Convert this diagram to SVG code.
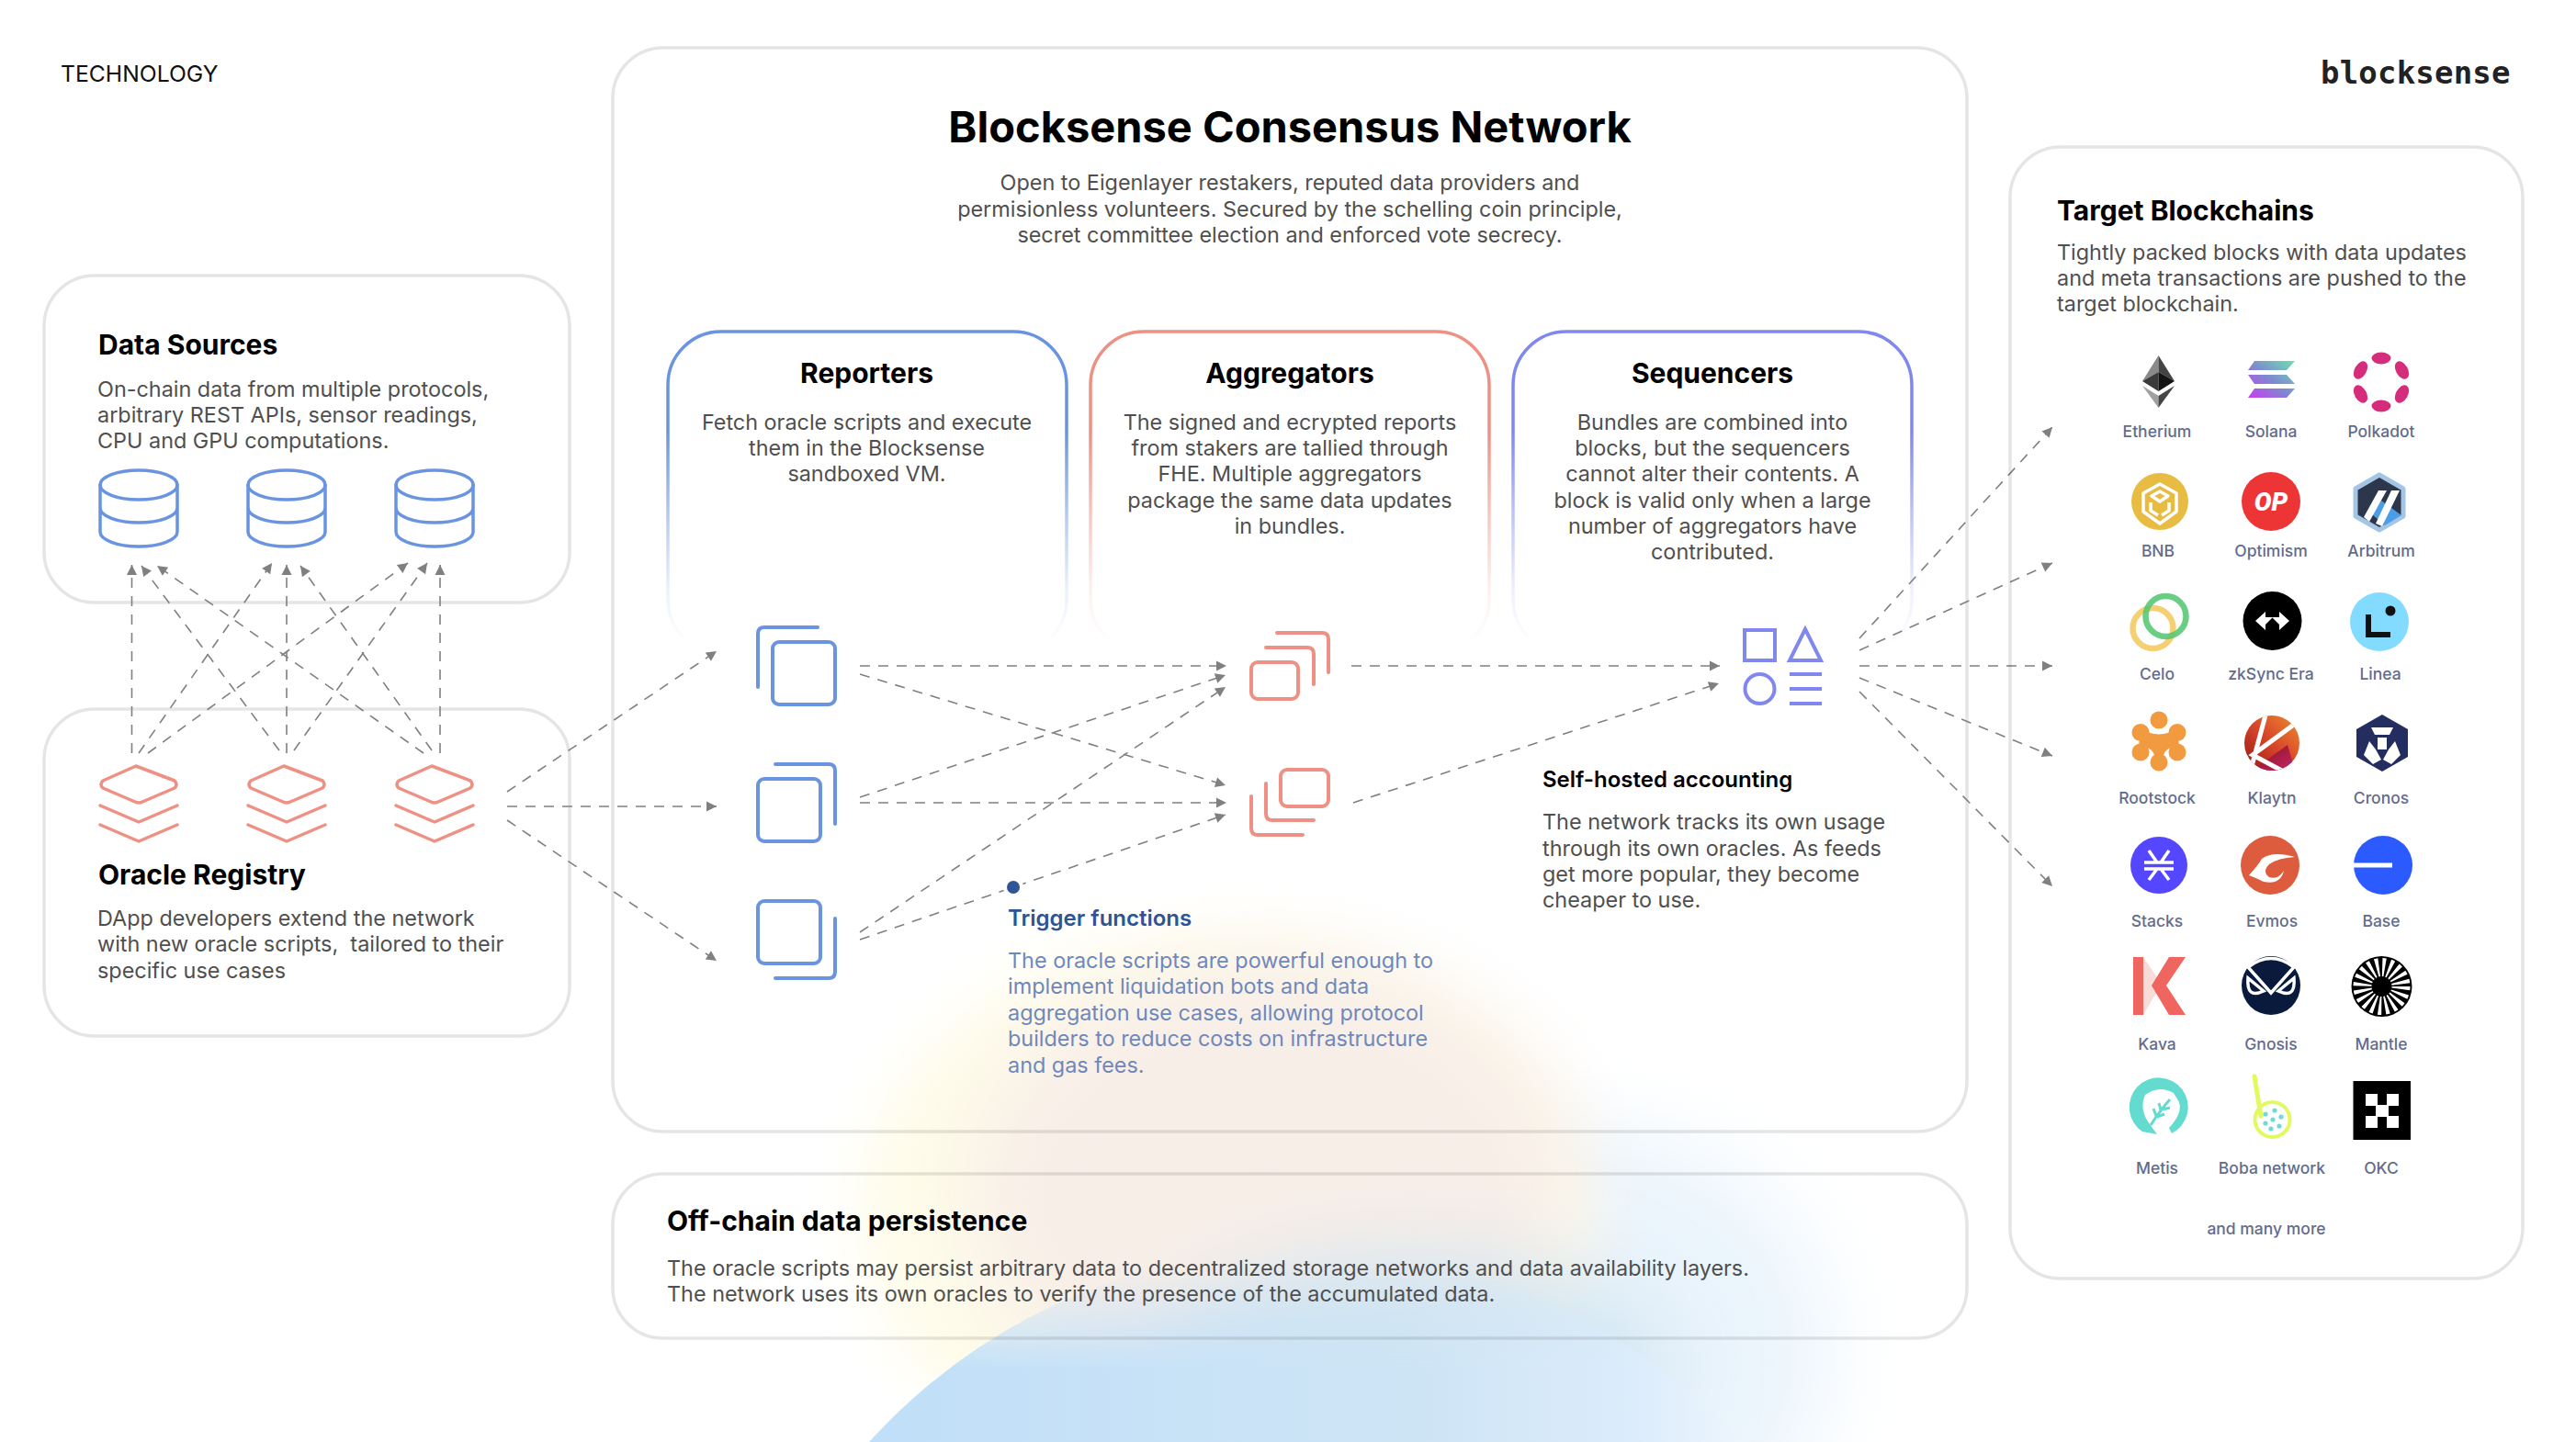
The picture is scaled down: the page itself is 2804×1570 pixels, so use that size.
<svg xmlns="http://www.w3.org/2000/svg" width="2804" height="1570" viewBox="0 0 2804 1570">
<style>
text{font-family:"Inter","Liberation Sans",sans-serif}
.panel{fill:none;stroke:#000;stroke-opacity:.1;stroke-width:3.5}
.h2{font-size:30px;font-weight:700;fill:#000}
.h3{font-size:24px;font-weight:600;fill:#000}
.b{font-size:23.4px;fill:#4f4f4f}
.c{text-anchor:middle}
.tb{fill:#6f88bb}
.lab{font-size:17.5px;font-weight:500;fill:#636c8c;text-anchor:middle}
.blue{fill:none;stroke:#6a94e0;stroke-width:4;stroke-linecap:round;stroke-linejoin:round}
.red{fill:none;stroke:#ee9083;stroke-width:4;stroke-linecap:round;stroke-linejoin:round}
.vio{fill:none;stroke:#8088ee;stroke-width:4}
.con line{stroke:#808080;stroke-width:1.6;stroke-dasharray:11 9;marker-end:url(#ah)}
</style>
<defs>
<marker id="ah" markerUnits="userSpaceOnUse" markerWidth="14" markerHeight="14" viewBox="0 0 14 14" refX="13" refY="7" orient="auto"><path d="M2 1.5 13 7 2 12.5Z" fill="#808080"/></marker>
<filter id="b60" x="-40%" y="-40%" width="180%" height="180%"><feGaussianBlur stdDeviation="45"/></filter>
<filter id="b30" x="-40%" y="-40%" width="180%" height="180%"><feGaussianBlur stdDeviation="30"/></filter>
<linearGradient id="fb" gradientUnits="userSpaceOnUse" x1="0" y1="360" x2="0" y2="712"><stop offset="0" stop-color="#6a94e0"/><stop offset=".31" stop-color="#6a94e0"/><stop offset=".57" stop-color="#6a94e0" stop-opacity=".5"/><stop offset=".8" stop-color="#6a94e0" stop-opacity=".13"/><stop offset=".97" stop-color="#6a94e0" stop-opacity="0"/></linearGradient>
<linearGradient id="fr" gradientUnits="userSpaceOnUse" x1="0" y1="360" x2="0" y2="712"><stop offset="0" stop-color="#ee9083"/><stop offset=".31" stop-color="#ee9083"/><stop offset=".57" stop-color="#ee9083" stop-opacity=".5"/><stop offset=".8" stop-color="#ee9083" stop-opacity=".13"/><stop offset=".97" stop-color="#ee9083" stop-opacity="0"/></linearGradient>
<linearGradient id="fv" gradientUnits="userSpaceOnUse" x1="0" y1="360" x2="0" y2="712"><stop offset="0" stop-color="#8088ee"/><stop offset=".31" stop-color="#8088ee"/><stop offset=".57" stop-color="#8088ee" stop-opacity=".5"/><stop offset=".8" stop-color="#8088ee" stop-opacity=".13"/><stop offset=".97" stop-color="#8088ee" stop-opacity="0"/></linearGradient>
<linearGradient id="bluefade" gradientUnits="userSpaceOnUse" x1="0" y1="1380" x2="0" y2="1490"><stop offset="0" stop-color="#fff" stop-opacity="0"/><stop offset="1" stop-color="#fff"/></linearGradient>
<linearGradient id="bluex" gradientUnits="userSpaceOnUse" x1="940" y1="0" x2="2020" y2="0"><stop offset="0" stop-color="#c1dff9"/><stop offset=".55" stop-color="#cde4f5"/><stop offset=".78" stop-color="#dcecfb"/><stop offset="1" stop-color="#fff"/></linearGradient>
<mask id="bm"><rect x="800" y="1300" width="1400" height="400" fill="url(#bluefade)"/></mask>
<linearGradient id="sol" x1="0" y1="1" x2="1" y2="0"><stop offset="0" stop-color="#c83cf0"/><stop offset=".5" stop-color="#7d8bd0"/><stop offset="1" stop-color="#6ee0b0"/></linearGradient>
<linearGradient id="kl" x1="0" y1="1" x2="1" y2="0"><stop offset="0" stop-color="#8c0f0f"/><stop offset=".5" stop-color="#d8462a"/><stop offset="1" stop-color="#f29a30"/></linearGradient>
<linearGradient id="kl2" x1="0" y1="0" x2="1" y2="1"><stop offset="0" stop-color="#8c0f0f"/><stop offset="1" stop-color="#c82a7a"/></linearGradient>
<clipPath id="klc"><circle cx="2473" cy="809" r="30"/></clipPath>
</defs>

<g id="background">
<ellipse cx="1720" cy="1470" rx="270" ry="240" fill="#eaf4fc" filter="url(#b60)"/>
<ellipse cx="1330" cy="1320" rx="395" ry="300" fill="#fefce9" filter="url(#b30)"/>
<ellipse cx="1385" cy="1300" rx="330" ry="255" fill="#f8eee8" filter="url(#b60)"/>
<ellipse cx="1540" cy="1490" rx="280" ry="125" fill="#d3e6f2" filter="url(#b60)"/>
<circle cx="1420" cy="2000" r="640" fill="url(#bluex)" mask="url(#bm)"/>
</g>

<g id="technology-label"><text x="66" y="89" font-size="24.7" fill="#111">TECHNOLOGY</text></g>
<g id="logo"><text x="2526" y="91" style="font-family:'DejaVu Sans Mono','Liberation Mono',monospace" font-size="34" font-weight="700" letter-spacing="0.2" fill="#222">blocksense</text></g>

<g id="data-sources">
<rect class="panel" x="48" y="300" width="572" height="356" rx="55"/>
<text class="h2" x="107" y="386">Data Sources</text>
<text class="b" x="106" y="432">On-chain data from multiple protocols,</text>
<text class="b" x="106" y="460">arbitrary REST APIs, sensor readings,</text>
<text class="b" x="106" y="488">CPU and GPU computations.</text>
<g id="db1" class="blue" style="stroke-width:3.5"><ellipse cx="151" cy="528" rx="42" ry="16"/><path d="M109 528V579A42 16 0 0 0 193 579V528M109 553A42 16 0 0 0 193 553"/></g>
<g id="db2" class="blue" style="stroke-width:3.5"><ellipse cx="312" cy="528" rx="42" ry="16"/><path d="M270 528V579A42 16 0 0 0 354 579V528M270 553A42 16 0 0 0 354 553"/></g>
<g id="db3" class="blue" style="stroke-width:3.5"><ellipse cx="473" cy="528" rx="42" ry="16"/><path d="M431 528V579A42 16 0 0 0 515 579V528M431 553A42 16 0 0 0 515 553"/></g>
</g>

<g id="oracle-registry">
<rect class="panel" x="48" y="772" width="572" height="356" rx="55"/>
<text class="h2" x="107" y="963">Oracle Registry</text>
<text class="b" x="106" y="1008">DApp developers extend the network</text>
<text class="b" x="106" y="1036" xml:space="preserve">with new oracle scripts,  tailored to their</text>
<text class="b" x="106" y="1065">specific use cases</text>
<g id="layers1" class="red" style="stroke-width:3.5"><path d="M148 834 190 850Q194 854 190 858L155 873Q151 875 147 873L112 858Q108 854 112 850L148 834ZM109 877 151 895 193 877M109 898 151 916 193 898"/></g>
<g id="layers2" class="red" style="stroke-width:3.5" transform="translate(161 0)"><path d="M148 834 190 850Q194 854 190 858L155 873Q151 875 147 873L112 858Q108 854 112 850L148 834ZM109 877 151 895 193 877M109 898 151 916 193 898"/></g>
<g id="layers3" class="red" style="stroke-width:3.5" transform="translate(322 0)"><path d="M148 834 190 850Q194 854 190 858L155 873Q151 875 147 873L112 858Q108 854 112 850L148 834ZM109 877 151 895 193 877M109 898 151 916 193 898"/></g>
</g>

<g id="consensus-network">
<rect class="panel" x="667" y="52" width="1474" height="1180" rx="55"/>
<text x="1404" y="155" class="c" font-size="47" font-weight="700" fill="#000">Blocksense Consensus Network</text>
<text class="b c" x="1404" y="207">Open to Eigenlayer restakers, reputed data providers and</text>
<text class="b c" x="1404" y="236">permisionless volunteers. Secured by the schelling coin principle,</text>
<text class="b c" x="1404" y="264">secret committee election and enforced vote secrecy.</text>
</g>

<g id="reporters">
<rect x="727" y="361" width="434" height="350" rx="58" fill="none" stroke="url(#fb)" stroke-width="3.5"/>
<text class="h2 c" x="943.500" y="417">Reporters</text>
<text class="b c" x="943.500" y="468">Fetch oracle scripts and execute</text>
<text class="b c" x="943.500" y="496">them in the Blocksense</text>
<text class="b c" x="943.500" y="524">sandboxed VM.</text>
<g id="rep1" class="blue"><rect x="841" y="699" width="68" height="68" rx="7"/><path d="M825 748V690Q825 683 832 683H890"/></g>
<g id="rep2" class="blue"><rect x="825" y="848" width="68" height="68" rx="7"/><path d="M844 832H902Q909 832 909 839V897"/></g>
<g id="rep3" class="blue"><rect x="825" y="981" width="68" height="68" rx="7"/><path d="M909 1000V1058Q909 1065 902 1065H844"/></g>
</g>

<g id="aggregators">
<rect x="1187" y="361" width="434" height="350" rx="58" fill="none" stroke="url(#fr)" stroke-width="3.5"/>
<text class="h2 c" x="1404" y="417">Aggregators</text>
<text class="b c" x="1404" y="468">The signed and ecrypted reports</text>
<text class="b c" x="1404" y="496">from stakers are tallied through</text>
<text class="b c" x="1404" y="524">FHE. Multiple aggregators</text>
<text class="b c" x="1404" y="553">package the same data updates</text>
<text class="b c" x="1404" y="581">in bundles.</text>
<g id="agg1" class="red"><rect x="1362" y="721" width="51" height="40" rx="7"/><path d="M1378 705H1423Q1430 705 1430 712V745M1390 689H1439Q1446 689 1446 696V732"/></g>
<g id="agg2" class="red"><rect x="1394" y="838" width="52" height="40" rx="7"/><path d="M1378 853V886Q1378 893 1385 893H1430M1362 867V902Q1362 909 1369 909H1418"/></g>
</g>

<g id="sequencers">
<rect x="1647" y="361" width="434" height="350" rx="58" fill="none" stroke="url(#fv)" stroke-width="3.5"/>
<text class="h2 c" x="1864" y="417">Sequencers</text>
<text class="b c" x="1864" y="468">Bundles are combined into</text>
<text class="b c" x="1864" y="496">blocks, but the sequencers</text>
<text class="b c" x="1864" y="524">cannot alter their contents. A</text>
<text class="b c" x="1864" y="553">block is valid only when a large</text>
<text class="b c" x="1864" y="581">number of aggregators have</text>
<text class="b c" x="1864" y="609">contributed.</text>
<g id="seq-icon" class="vio"><rect x="1899" y="686" width="33" height="33"/><path d="M1965 685 1948 719H1982Z"/><circle cx="1915.500" cy="750" r="16"/><path d="M1948 734H1983M1948 750H1983M1948 766H1983"/></g>
</g>

<g id="connectors" class="con">
<line x1="143.500" y1="820" x2="143.500" y2="615"/><line x1="151" y1="820" x2="296" y2="613"/><line x1="161" y1="820" x2="444" y2="613"/>
<line x1="304" y1="817" x2="154" y2="616"/><line x1="312" y1="820" x2="312" y2="615"/><line x1="320" y1="817" x2="465" y2="613"/>
<line x1="461" y1="820" x2="171" y2="616"/><line x1="470" y1="817" x2="327" y2="616"/><line x1="479" y1="820" x2="479" y2="615"/>
<line x1="552" y1="862" x2="780" y2="709"/><line x1="552" y1="878" x2="780" y2="878"/><line x1="552" y1="893" x2="780" y2="1046"/>
<line x1="936" y1="725" x2="1335" y2="725"/><line x1="936" y1="734" x2="1334" y2="855"/>
<line x1="936" y1="868" x2="1334" y2="735"/><line x1="936" y1="874" x2="1335" y2="874"/>
<line x1="936" y1="1015" x2="1334" y2="748"/><line x1="936" y1="1023" x2="1334" y2="887"/>
<line x1="1471" y1="725" x2="1872" y2="725"/><line x1="1473" y1="874" x2="1871" y2="744"/>
<line x1="2024" y1="695" x2="2234" y2="465"/><line x1="2024" y1="708" x2="2234" y2="613"/><line x1="2024" y1="725" x2="2234" y2="725"/><line x1="2024" y1="738" x2="2234" y2="823"/><line x1="2024" y1="753" x2="2234" y2="965"/>
</g>

<g id="trigger-functions">
<circle cx="1103" cy="966" r="11" fill="#fff"/><circle cx="1103" cy="966" r="7" fill="#2f5596"/>
<text class="h3" x="1097" y="1008" style="fill:#2c5497">Trigger functions</text>
<text class="b tb" x="1097" y="1054">The oracle scripts are powerful enough to</text>
<text class="b tb" x="1097" y="1082">implement liquidation bots and data</text>
<text class="b tb" x="1097" y="1111">aggregation use cases, allowing protocol</text>
<text class="b tb" x="1097" y="1139">builders to reduce costs on infrastructure</text>
<text class="b tb" x="1097" y="1168">and gas fees.</text>
</g>

<g id="self-hosted-accounting">
<text class="h3" x="1679" y="857">Self-hosted accounting</text>
<text class="b" x="1679" y="903">The network tracks its own usage</text>
<text class="b" x="1679" y="932">through its own oracles. As feeds</text>
<text class="b" x="1679" y="960">get more popular, they become</text>
<text class="b" x="1679" y="988">cheaper to use.</text>
</g>

<g id="off-chain-persistence">
<rect class="panel" x="667" y="1278" width="1474" height="179" rx="55"/>
<text class="h2" x="726" y="1340">Off-chain data persistence</text>
<text class="b" x="726" y="1389">The oracle scripts may persist arbitrary data to decentralized storage networks and data availability layers.</text>
<text class="b" x="726" y="1417">The network uses its own oracles to verify the presence of the accumulated data.</text>
</g>

<g id="target-blockchains">
<rect class="panel" x="2188" y="160" width="558" height="1232" rx="55"/>
<text class="h2" x="2239" y="240">Target Blockchains</text>
<text class="b" x="2239" y="283">Tightly packed blocks with data updates</text>
<text class="b" x="2239" y="311">and meta transactions are pushed to the</text>
<text class="b" x="2239" y="339">target blockchain.</text>
</g>

<g id="ethereum"><path d="M2349.500 387 2332 415 2349.500 405Z" fill="#8a8a8a"/><path d="M2349.500 387 2367 415 2349.500 405Z" fill="#444"/><path d="M2332 415 2349.500 405V426Z" fill="#3b3b3b"/><path d="M2367 415 2349.500 405V426Z" fill="#141414"/><path d="M2332 420 2349.500 444V431Z" fill="#a0a0a0"/><path d="M2367 420 2349.500 444V431Z" fill="#454545"/><text class="lab" x="2348" y="476">Etherium</text></g>
<g id="solana"><path d="M2454 393H2498L2489 403H2447Z M2447 408H2489L2498 418H2454Z M2454 423H2498L2489 433H2447Z" fill="url(#sol)"/><text class="lab" x="2472" y="476">Solana</text></g>
<g id="polkadot" fill="#d52c7c"><ellipse cx="2592" cy="390" rx="10.500" ry="6.500"/><ellipse cx="2592" cy="442" rx="10.500" ry="6.500"/><ellipse cx="2569.500" cy="403" rx="10.500" ry="6.500" transform="rotate(-60 2569.500 403)"/><ellipse cx="2614.500" cy="403" rx="10.500" ry="6.500" transform="rotate(60 2614.500 403)"/><ellipse cx="2569.500" cy="429" rx="10.500" ry="6.500" transform="rotate(60 2569.500 429)"/><ellipse cx="2614.500" cy="429" rx="10.500" ry="6.500" transform="rotate(-60 2614.500 429)"/><text class="lab" x="2592" y="476">Polkadot</text></g>
<g id="bnb"><circle cx="2351" cy="546" r="31" fill="#e8bc42"/><path d="M2351 527 2369 537V557L2351 570 2333 557V537ZM2351 535 2342 540 2351 546 2360 540ZM2341 547V556L2349 561M2361 547V556L2353 561" fill="none" stroke="#fff" stroke-width="3.500" stroke-linejoin="round"/><text class="lab" x="2349" y="606">BNB</text></g>
<g id="optimism"><circle cx="2472" cy="546" r="32" fill="#ee3535"/><text x="2472" y="556" text-anchor="middle" style="font-family:Roboto,'Liberation Sans',sans-serif" font-size="28" font-weight="900" font-style="italic" fill="#fff">OP</text><text class="lab" x="2472" y="606">Optimism</text></g>
<g id="arbitrum"><path d="M2590 517 2616 532V562L2590 577 2564 562V532Z" fill="#2d374b" stroke="#a5c5e4" stroke-width="5" stroke-linejoin="round"/><path d="M2592 545 2614 561 2596 572 2582 560Z" fill="#4b9ee6"/><path d="M2573 563 2589 534H2598L2579 568ZM2586 570 2603 534H2612L2593 573Z" fill="#fff"/><text class="lab" x="2592" y="606">Arbitrum</text></g>
<g id="celo"><circle cx="2343.500" cy="684" r="22" fill="none" stroke="#f5d072" stroke-width="6.500"/><circle cx="2357.500" cy="671" r="22" fill="none" stroke="#4fc66e" stroke-opacity=".85" stroke-width="6.500"/><text class="lab" x="2348" y="740">Celo</text></g>
<g id="zksync"><circle cx="2473.500" cy="676" r="32" fill="#000"/><path d="M2455 676 2466 666V672H2474L2466 680V686ZM2492 676 2481 666V672H2473L2481 680V686Z" fill="#fff"/><text class="lab" x="2472" y="740">zkSync Era</text></g>
<g id="linea"><circle cx="2590" cy="677" r="32" fill="#83dcff"/><path d="M2578 669V691H2602" fill="none" stroke="#111" stroke-width="6"/><circle cx="2602" cy="665" r="5.500" fill="#111"/><text class="lab" x="2591" y="740">Linea</text></g>
<g id="rootstock" fill="#f29a3f"><circle cx="2350" cy="784" r="9.500"/><circle cx="2330" cy="797.500" r="9.500"/><circle cx="2370" cy="797.500" r="9.500"/><circle cx="2330" cy="819" r="9.500"/><circle cx="2370" cy="819" r="9.500"/><circle cx="2350" cy="830" r="9.500"/><path d="M2330 793Q2350 806 2370 793L2372 813Q2356 812 2354 826H2346Q2344 812 2328 813Z"/><text class="lab" x="2348" y="875">Rootstock</text></g>
<g id="klaytn"><g clip-path="url(#klc)"><rect x="2440" y="775" width="70" height="70" fill="url(#kl)"/><path d="M2450 840 2490 811 2500 845Z" fill="url(#kl2)"/><path d="M2467 775 2450 838M2505 783 2452 822 2495 845" fill="none" stroke="#fff" stroke-width="5"/></g><text class="lab" x="2473" y="875">Klaytn</text></g>
<g id="cronos"><path d="M2593 778 2621 794V824L2593 840 2565 824V794Z" fill="#232d5f"/><path d="M2581 792H2605L2601 800H2585ZM2588 803H2598V816H2588ZM2579 807 2586 816 2592 827 2583 832 2573 822ZM2607 807 2600 816 2594 827 2603 832 2613 822Z" fill="#fff"/><text class="lab" x="2592" y="875">Cronos</text></g>
<g id="stacks"><circle cx="2350" cy="942" r="31" fill="#5546ff"/><path d="M2334 939H2366M2334 946H2366M2339 926 2348 939M2361 926 2352 939M2339 958 2348 946M2361 958 2352 946" stroke="#fff" stroke-width="3.500" fill="none"/><text class="lab" x="2348" y="1009">Stacks</text></g>
<g id="evmos"><circle cx="2471" cy="942" r="32" fill="#dd5c3e"/><path d="M2448 953Q2458 942 2462 935Q2474 926 2498 933Q2480 934 2470 941Q2462 949 2470 955Q2480 958 2486 948Q2482 964 2464 960Q2456 956 2448 953Z" fill="#fff"/><text class="lab" x="2473" y="1009">Evmos</text></g>
<g id="base"><circle cx="2594" cy="942" r="32" fill="#2b5bff"/><rect x="2562" y="939.500" width="42" height="5" fill="#fff"/><text class="lab" x="2592" y="1009">Base</text></g>
<g id="kava"><path d="M2333 1042 2354 1073 2344 1086 2333 1105Z" fill="#f8dcd8"/><path d="M2322 1042H2333V1105H2322ZM2379 1042H2361L2342 1073 2361 1105H2379L2358 1073Z" fill="#ef6660"/><text class="lab" x="2348" y="1143">Kava</text></g>
<g id="gnosis"><circle cx="2472" cy="1073" r="32" fill="#0a1a3c"/><path d="M2447 1053Q2472 1034 2497 1053L2472 1081ZM2447 1065Q2445 1088 2464 1079ZM2497 1065Q2499 1088 2480 1079Z" fill="none" stroke="#fff" stroke-width="3.500"/><text class="lab" x="2472" y="1143">Gnosis</text></g>
<g id="mantle"><circle cx="2592.500" cy="1074" r="33" fill="#000"/><circle cx="2592.500" cy="1074" r="21" fill="none" stroke="#fff" stroke-width="20" stroke-dasharray="3 3.600"/><circle cx="2592.500" cy="1074" r="9" fill="#000"/><text class="lab" x="2592" y="1143">Mantle</text></g>
<g id="metis"><path d="M2332 1232A32 32 0 1 1 2364 1234L2361 1228Q2376 1212 2372 1200L2366 1190Q2350 1181 2335 1192Q2328 1208 2340 1224L2348 1235Z" fill="#63dbce"/><path d="M2341 1225Q2352 1208 2362 1197M2347 1215 2344 1207M2352 1208 2350 1201M2348 1216 2356 1213M2354 1208 2362 1206" fill="none" stroke="#63dbce" stroke-width="3"/><text class="lab" x="2348" y="1278">Metis</text></g>
<g id="boba"><path d="M2454 1172 2461 1215" stroke="#e3f960" stroke-width="5" stroke-linecap="round"/><circle cx="2473.500" cy="1219" r="19" fill="none" stroke="#e3f960" stroke-width="4"/><g fill="#6edbd6"><circle cx="2466" cy="1213" r="2.600"/><circle cx="2476" cy="1209" r="2.600"/><circle cx="2483" cy="1216" r="2.600"/><circle cx="2474" cy="1219" r="2.600"/><circle cx="2466" cy="1223" r="2.600"/><circle cx="2481" cy="1226" r="2.600"/><circle cx="2472" cy="1229" r="2.600"/></g><text class="lab" x="2473" y="1278">Boba network</text></g>
<g id="okc"><rect x="2561.500" y="1177" width="62.500" height="64" fill="#000"/><path d="M2575 1191H2588V1204H2575ZM2598 1191H2611V1204H2598ZM2586 1203H2600V1216H2586ZM2575 1215H2588V1228H2575ZM2598 1215H2611V1228H2598Z" fill="#fff"/><text class="lab" x="2592" y="1278">OKC</text></g>
<g id="many-more"><text class="lab" x="2467" y="1344">and many more</text></g>
</svg>
